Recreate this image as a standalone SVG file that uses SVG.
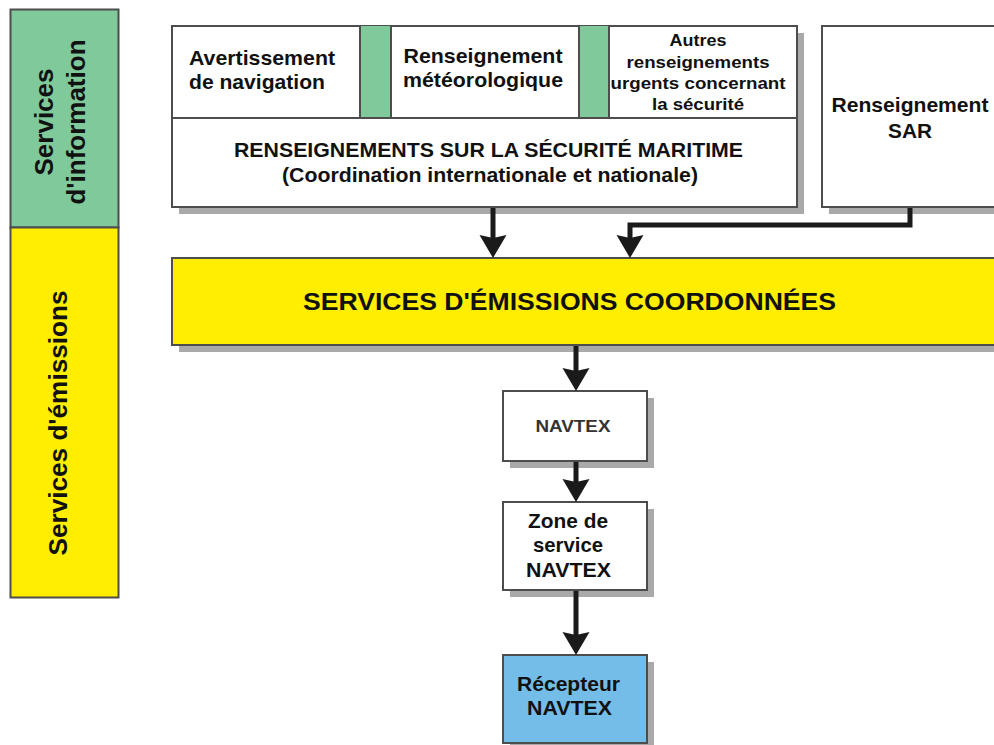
<svg xmlns="http://www.w3.org/2000/svg" width="994" height="745" viewBox="0 0 994 745">
<style>
  text { font-family: "Liberation Sans", Arial, sans-serif; font-weight: bold; fill: #111; }
  .box { stroke: #4d4d4d; stroke-width: 2; }
  .white { fill: #ffffff; }
  .green { fill: #7fc99a; }
  .yellow { fill: #ffee00; }
  .blue { fill: #74bde8; }
  .shadow { fill: #a9a9a9; }
  .t20 { font-size: 21px; }
  .t16 { font-size: 16.5px; }
  .mid { text-anchor: middle; }
  .wire { stroke: #1a1a1a; stroke-width: 5; fill: none; }
  .head { fill: #1a1a1a; }
</style>
<defs>
  <polygon id="ah" points="-13.5,-23 0,-20 13.5,-23 0,0"/>
</defs>
<rect width="994" height="745" fill="#ffffff"/>

<g id="services-information">
  <rect class="box green" x="10.5" y="9.5" width="108" height="218"/>
  <text class="mid" style="font-size:26px" transform="translate(53,122) rotate(-90)">Services</text>
  <text class="mid" style="font-size:26px" transform="translate(85,122) rotate(-90)">d'information</text>
</g>
<g id="services-emissions">
  <rect class="box yellow" x="10.5" y="227.5" width="108" height="370"/>
  <text class="mid" style="font-size:25px" transform="translate(67,423) rotate(-90)" textLength="265" lengthAdjust="spacingAndGlyphs">Services d'émissions</text>
</g>

<g id="rsm-group">
  <rect class="shadow" x="179" y="33" width="625" height="181"/>
  <rect class="box white" x="172" y="26" width="625" height="181"/>
  <rect class="green" x="360" y="26" width="31" height="92"/>
  <rect class="green" x="579" y="26" width="30" height="92"/>
  <line class="box" x1="172" y1="118" x2="797" y2="118"/>
  <line class="box" x1="360" y1="26" x2="360" y2="118"/>
  <line class="box" x1="391" y1="26" x2="391" y2="118"/>
  <line class="box" x1="579" y1="26" x2="579" y2="118"/>
  <line class="box" x1="609" y1="26" x2="609" y2="118"/>
  <text class="mid" x="488.5" y="157" style="font-size:20px" textLength="509" lengthAdjust="spacingAndGlyphs">RENSEIGNEMENTS SUR LA SÉCURITÉ MARITIME</text>
  <text class="mid" x="490" y="182" style="font-size:20px" textLength="416" lengthAdjust="spacingAndGlyphs">(Coordination internationale et nationale)</text>
</g>
<g id="avertissement">
  <text class="t20" x="189" y="65" textLength="146" lengthAdjust="spacingAndGlyphs">Avertissement</text>
  <text class="t20" x="189" y="89" textLength="136" lengthAdjust="spacingAndGlyphs">de navigation</text>
</g>
<g id="meteo">
  <text class="t20 mid" x="483" y="63" textLength="159" lengthAdjust="spacingAndGlyphs">Renseignement</text>
  <text class="t20 mid" x="483" y="87" textLength="160" lengthAdjust="spacingAndGlyphs">météorologique</text>
</g>
<g id="autres">
  <text class="t16 mid" x="698" y="46" textLength="57" lengthAdjust="spacingAndGlyphs">Autres</text>
  <text class="t16 mid" x="698" y="67.5" textLength="143" lengthAdjust="spacingAndGlyphs">renseignements</text>
  <text class="t16 mid" x="698" y="89" textLength="175" lengthAdjust="spacingAndGlyphs">urgents concernant</text>
  <text class="t16 mid" x="698" y="110" textLength="92" lengthAdjust="spacingAndGlyphs">la sécurité</text>
</g>

<g id="sar">
  <rect class="shadow" x="829" y="33" width="180" height="181"/>
  <rect class="box white" x="822" y="26" width="180" height="181"/>
  <text class="t20 mid" x="910" y="112" textLength="157" lengthAdjust="spacingAndGlyphs">Renseignement</text>
  <text class="t20 mid" x="910" y="138" textLength="44" lengthAdjust="spacingAndGlyphs">SAR</text>
</g>

<g id="emissions">
  <rect class="shadow" x="179" y="265" width="830" height="87"/>
  <rect class="box yellow" x="172" y="258" width="830" height="87"/>
  <text class="mid" x="569.5" y="310" style="font-size:24px" textLength="533" lengthAdjust="spacingAndGlyphs">SERVICES D'ÉMISSIONS COORDONNÉES</text>
</g>

<g id="navtex">
  <rect class="shadow" x="510" y="398" width="144" height="70"/>
  <rect class="box white" x="503" y="391" width="144" height="70"/>
  <text class="mid" x="573" y="432" style="font-size:17px;fill:#333" textLength="75" lengthAdjust="spacingAndGlyphs">NAVTEX</text>
</g>

<g id="zone">
  <rect class="shadow" x="510" y="509" width="144" height="88"/>
  <rect class="box white" x="503" y="502" width="144" height="88"/>
  <text class="t20 mid" x="568" y="528" textLength="80" lengthAdjust="spacingAndGlyphs">Zone de</text>
  <text class="t20 mid" x="568" y="552" textLength="70" lengthAdjust="spacingAndGlyphs">service</text>
  <text class="t20 mid" x="568.5" y="577" textLength="85" lengthAdjust="spacingAndGlyphs">NAVTEX</text>
</g>

<g id="recepteur">
  <rect class="shadow" x="510" y="662" width="144" height="90"/>
  <rect class="box blue" x="503" y="655" width="144" height="88"/>
  <text class="t20 mid" x="568.5" y="691" textLength="103" lengthAdjust="spacingAndGlyphs">Récepteur</text>
  <text class="t20 mid" x="569.5" y="715" textLength="85" lengthAdjust="spacingAndGlyphs">NAVTEX</text>
</g>

<g id="connectors">
  <line class="wire" x1="493" y1="208" x2="493" y2="240"/>
  <use href="#ah" class="head" x="493" y="258"/>
  <polyline class="wire" points="910,208 910,225 630,225 630,240"/>
  <use href="#ah" class="head" x="630" y="258"/>
  <line class="wire" x1="576" y1="346" x2="576" y2="373"/>
  <use href="#ah" class="head" x="576" y="391"/>
  <line class="wire" x1="576" y1="462" x2="576" y2="484"/>
  <use href="#ah" class="head" x="576" y="502"/>
  <line class="wire" x1="576" y1="591" x2="576" y2="637"/>
  <use href="#ah" class="head" x="576" y="655"/>
</g>
</svg>
